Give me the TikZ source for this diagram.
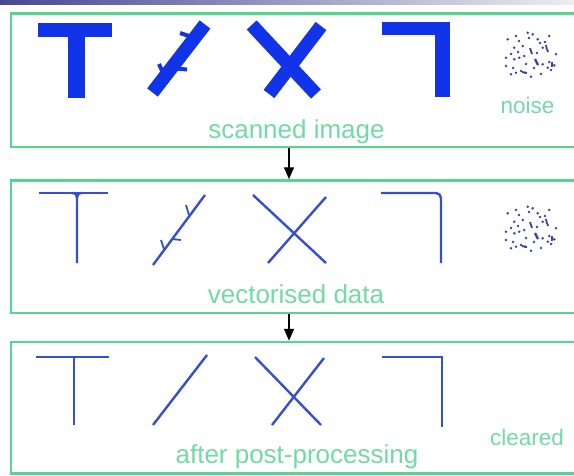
\documentclass[tikz,border=0pt]{standalone}
\usepackage{fontspec}
\setmainfont{Liberation Sans}
\usetikzlibrary{arrows.meta}
\definecolor{frameg}{RGB}{88,212,145}
\definecolor{textg}{RGB}{115,218,165}
\definecolor{thickb}{RGB}{18,52,232}
\definecolor{thinb}{RGB}{55,78,205}
\definecolor{noiseb}{RGB}{55,68,165}
\definecolor{barl}{RGB}{70,70,150}
\definecolor{barr}{RGB}{238,238,242}
\begin{document}
\begin{tikzpicture}[x=1pt,y=-1pt,
  frame/.style={draw=frameg, line width=2.5pt, minimum width=579pt, inner sep=0pt},
  lbl/.style={text=textg, font=\fontsize{26}{30}\selectfont, anchor=base, inner sep=0pt},
  sidelbl/.style={text=textg, font=\fontsize{22.5}{26}\selectfont, anchor=base, inner sep=0pt},
  arr/.style={line width=1.4pt, -{Triangle[width=10pt,length=12pt]}},
  bigstroke/.style={draw=thickb, line width=13.5pt},
  stub/.style={draw=thickb, line width=4pt},
  thinstroke/.style={draw=thinb, line width=2.4pt},
  tick/.style={draw=thinb, line width=1.8pt},
  noisepic/.pic={
    \foreach \dx/\dy in {-23.3/-16.7,-15/-20,-3.3/-23.3,1.7/-21.7,6.7/-16.7,18.3/-20,
      -16.7/-8.3,-8.3/-10,11.7/-8.3,16.7/-5,25/-1.7,-25/1.7,-16.7/3.3,-11.7/1.7,
      -6.7/0,11.7/8.3,18.3/6,23.3/9.3,-25/10,-20/18.3,-15/16.7,-10/15,-6/16.7,
      0/20.7,16.7/11.7,-2/-18,9/-13,-20/-2,3/12,14/-14,-12/-15,20/14,-5/8,
      -13/-4,6/-3,-18/12,10/18}
      {\fill[noiseb] (\dx,\dy) circle (1.4pt);}
    \draw[noiseb, line width=1.8pt] (-1,-8) -- (1,-2);
    \draw[noiseb, line width=2.4pt] (4,3) -- (7,9);
    \draw[noiseb, line width=1.8pt] (15,-11) -- (16,-6);
    \draw[noiseb, line width=1.8pt] (21,6) -- (21,11);
    \draw[noiseb, line width=1.8pt] (-9,16) -- (-4,17);
  }
]
\useasboundingbox (0,0) rectangle (574,475);
\clip (0,0) rectangle (574,475);
\fill[white] (0,0) rectangle (574,475);
\shade[left color=barl, right color=barr] (0,0) rectangle (574,4.5);

% frames
\node[frame, minimum height=133.5pt] (b1) at (300.5,80.25) {};
\node[frame, minimum height=132.5pt] (b2) at (300.5,246.75) {};
\node[frame, minimum height=131.5pt] (b3) at (300.5,407.75) {};

% arrows
\coordinate (ax) at (289,0);
\draw[arr] (b1.south -| ax) -- (b2.north -| ax);
\draw[arr] (b2.south -| ax) -- (b3.north -| ax);

% labels
\node[lbl] (l1) at (296.5,138) {scanned image};
\node[lbl] (l2) at (296,303) {vectorised data};
\node[lbl] (l3) at (297,463) {after post-processing};
\node[sidelbl] (n1) at (527.5,113) {noise};
\node[sidelbl] (n3) at (527,445) {cleared};

% ---- row 1: scanned image ----
\fill[thickb] (38,23) rectangle (112,37);
\fill[thickb] (68,36) rectangle (85,98);
\draw[bigstroke] (152.5,92.5) -- (205,24.5);
\draw[stub] (180,33) -- (192,37);
\draw[stub] (176,68.5) -- (187,69.5);
\draw[stub] (159,64) -- (163,73);
\draw[bigstroke] (251.7,25) -- (316,94);
\draw[bigstroke] (321,26) -- (269,94);
\fill[thickb] (382,22) rectangle (450,35);
\fill[thickb] (435,22) rectangle (450,97);
\pic at (531,56) {noisepic};

% ---- row 2: vectorised data ----
\draw[thinstroke] (39,193) -- (108,193);
\draw[thinstroke] (72,193) .. controls (76,193.5) .. (77,198) -- (77,263);
\draw[thinstroke] (82,193) .. controls (78,193.5) .. (77,198);
\draw[thinstroke] (153,265) -- (205,195);
\draw[tick] (186,205) -- (189,215);
\draw[tick] (172,239) -- (181,240);
\draw[tick] (161,240) -- (164,249);
\draw[thinstroke] (253,195) -- (326,263);
\draw[thinstroke] (268,263) -- (326,197);
\draw[thinstroke, rounded corners=5pt] (381,193) -- (441,193) -- (441,263);
\pic at (531,230) {noisepic};

% ---- row 3: after post-processing ----
\draw[thinstroke] (36,357) -- (109,357);
\draw[thinstroke] (74,357) -- (74,425);
\draw[thinstroke] (153,425) -- (207,355);
\draw[thinstroke] (255,357) -- (321,425);
\draw[thinstroke] (272,425) -- (324,358);
\draw[thinstroke] (382,357) -- (442,357) -- (442,427);
\end{tikzpicture}
\end{document}
